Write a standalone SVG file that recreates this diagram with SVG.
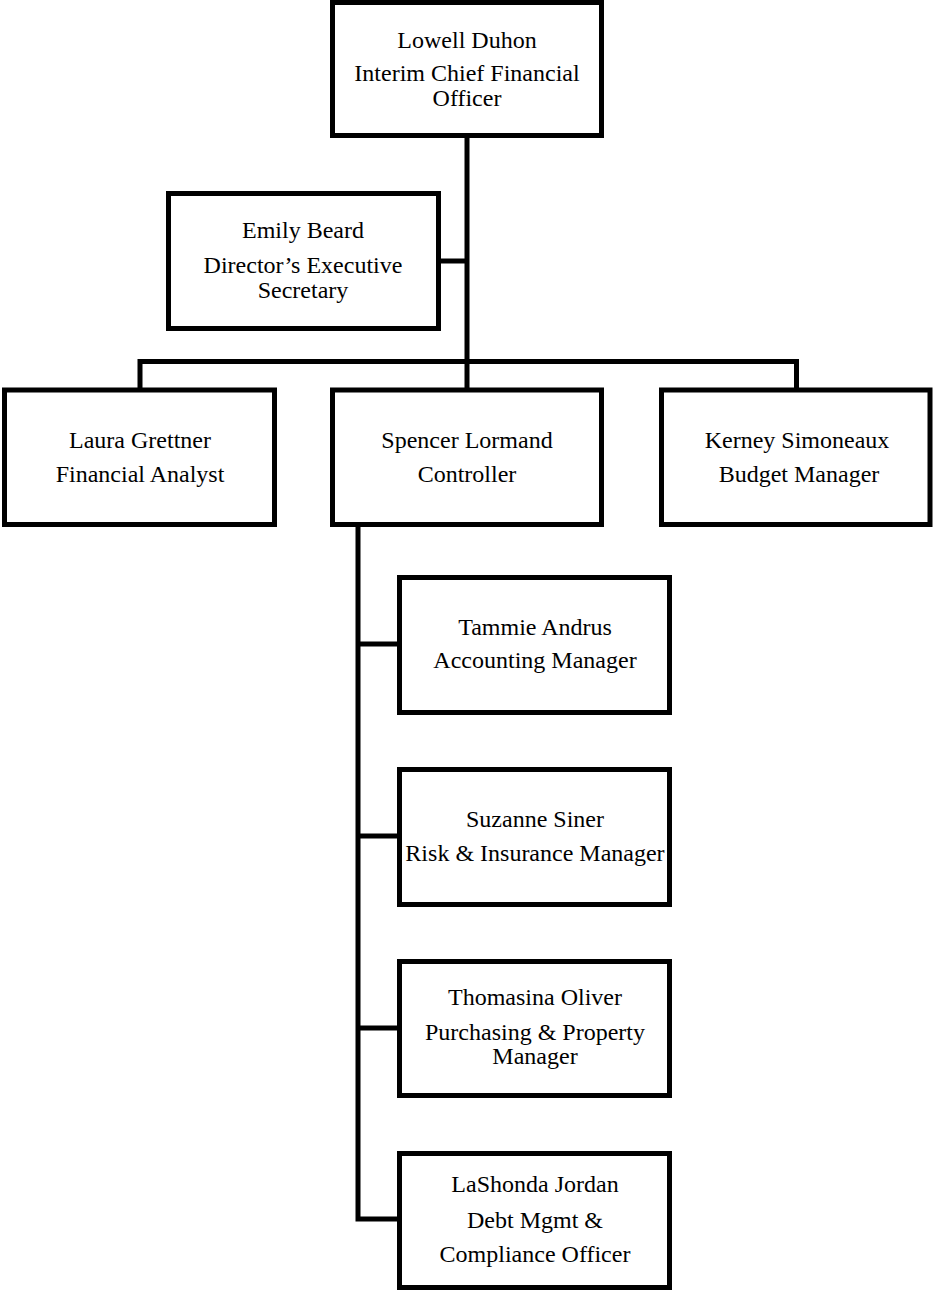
<svg xmlns="http://www.w3.org/2000/svg" width="933" height="1291" viewBox="0 0 933 1291">
<style>
.box{fill:#fff;stroke:#000;stroke-width:5}
.ln{fill:none;stroke:#000;stroke-width:5}
text{font-family:"Liberation Serif","Times New Roman",serif;font-size:24px;fill:#000;text-anchor:middle}
</style>
<rect width="933" height="1291" fill="#fff"/>
<g id="connectors">
<path class="ln" d="M467,136 V389"/>
<path class="ln" d="M439,261 H467"/>
<path class="ln" d="M140,389 V361.5 H796.5 V389" stroke-width="4.6"/>
<path class="ln" d="M358,526 V1219 H399"/>
<path class="ln" d="M358,644 H399"/>
<path class="ln" d="M358,836 H399"/>
<path class="ln" d="M358,1028 H399"/>
</g>
<g id="lowell">
<rect class="box" x="332.5" y="2.5" width="269" height="133"/>
<text x="467" y="48">Lowell Duhon</text>
<text x="467" y="81">Interim Chief Financial</text>
<text x="467" y="106">Officer</text>
</g>
<g id="emily">
<rect class="box" x="168.5" y="193.5" width="270" height="135"/>
<text x="303" y="238">Emily Beard</text>
<text x="303" y="273">Director’s Executive</text>
<text x="303" y="298">Secretary</text>
</g>
<g id="laura">
<rect class="box" x="4.5" y="390" width="270" height="134.5"/>
<text x="140" y="448">Laura Grettner</text>
<text x="140" y="482">Financial Analyst</text>
</g>
<g id="spencer">
<rect class="box" x="332.5" y="390" width="269" height="134.5"/>
<text x="467" y="448">Spencer Lormand</text>
<text x="467" y="482">Controller</text>
</g>
<g id="kerney">
<rect class="box" x="661.5" y="390" width="268.5" height="134.5"/>
<text x="797" y="448">Kerney Simoneaux</text>
<text x="799" y="482">Budget Manager</text>
</g>
<g id="tammie">
<rect class="box" x="399.5" y="577.5" width="270" height="135"/>
<text x="535" y="635">Tammie Andrus</text>
<text x="535" y="668">Accounting Manager</text>
</g>
<g id="suzanne">
<rect class="box" x="399.5" y="769.5" width="270" height="135"/>
<text x="535" y="827">Suzanne Siner</text>
<text x="535" y="861">Risk &amp; Insurance Manager</text>
</g>
<g id="thomasina">
<rect class="box" x="399.5" y="961.5" width="270" height="134"/>
<text x="535" y="1005">Thomasina Oliver</text>
<text x="535" y="1040">Purchasing &amp; Property</text>
<text x="535" y="1064">Manager</text>
</g>
<g id="lashonda">
<rect class="box" x="399.5" y="1153.5" width="270" height="134"/>
<text x="535" y="1192">LaShonda Jordan</text>
<text x="535" y="1228">Debt Mgmt &amp;</text>
<text x="535" y="1262">Compliance Officer</text>
</g>
</svg>
